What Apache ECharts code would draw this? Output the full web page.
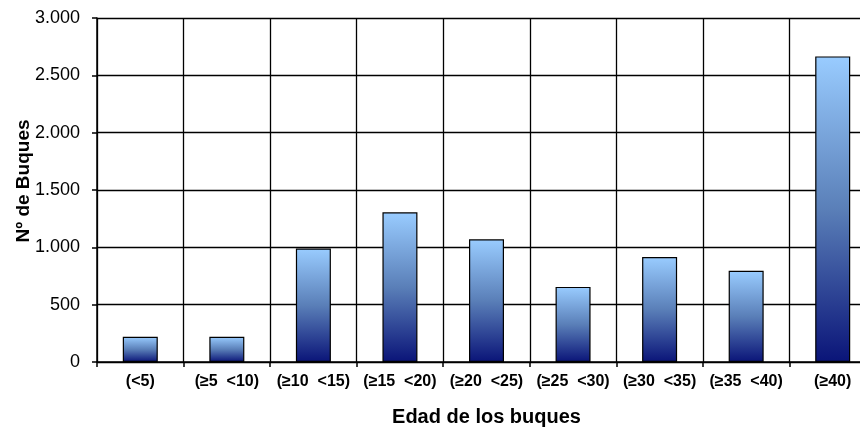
<!DOCTYPE html>
<html><head><meta charset="utf-8">
<script src="https://cdn.jsdelivr.net/npm/echarts@6/dist/echarts.min.js"></script>
<style>html,body{margin:0;padding:0;background:#fff;}#c{width:860px;height:427px;}</style>
</head><body><div id="c"></div>
<script>
var categories = ['(<5)', '(≥5  <10)', '(≥10  <15)', '(≥15  <20)', '(≥20  <25)', '(≥25  <30)', '(≥30  <35)', '(≥35  <40)', '(≥40)'];
var values = [220, 220, 990, 1305, 1070, 655, 915, 795, 2665];
var yTicks = {min: 0, max: 3000, interval: 500};

var chart = echarts.init(document.getElementById('c'));
chart.setOption({
  animation: false,
  grid: {left: 97, top: 18, width: 779, height: 344, containLabel: false, outerBoundsMode: 'none'},
  xAxis: {
    type: 'category', data: categories,
    name: 'Edad de los buques', nameLocation: 'middle', nameGap: 45, nameMoveOverlap: false,
    nameTextStyle: {fontFamily: 'Liberation Sans', fontWeight: 'bold', fontSize: 20, color: '#000'},
    axisLine: {lineStyle: {color: '#000', width: 1.5}},
    axisTick: {show: true, length: 5, lineStyle: {color: '#000', width: 1.5}},
    axisLabel: {fontFamily: 'Liberation Sans', fontWeight: 'bold', fontSize: 16, color: '#000', margin: 12, interval: 0},
    splitLine: {show: true, lineStyle: {color: '#000', width: 1.3}}
  },
  yAxis: {
    type: 'value', min: yTicks.min, max: yTicks.max, interval: yTicks.interval,
    name: 'Nº de Buques', nameLocation: 'middle', nameGap: 64, nameMoveOverlap: false,
    nameTextStyle: {fontFamily: 'Liberation Sans', fontWeight: 'bold', fontSize: 19, color: '#000', padding: [0, 0, 0, 18]},
    axisLine: {show: true, lineStyle: {color: '#000', width: 1.5}},
    axisTick: {show: true, length: 5, lineStyle: {color: '#000', width: 1.5}},
    axisLabel: {fontFamily: 'Liberation Sans', fontSize: 18, color: '#000', margin: 17,
      formatter: function (v) { return v >= 1000 ? Math.floor(v/1000) + '.' + String(v%1000).padStart(3,'0') : String(v); }},
    splitLine: {show: true, lineStyle: {color: '#000', width: 1.3}}
  },
  series: [{
    type: 'bar', data: values, barWidth: 35,
    itemStyle: {
      borderColor: '#000', borderWidth: 1.2,
      color: new echarts.graphic.LinearGradient(0, 0, 0, 1, [
        {offset: 0, color: '#99CCFF'},
        {offset: 0.5, color: '#5a7fb8'},
        {offset: 1, color: '#0a1478'}
      ], false)
    }
  }]
});
</script></body></html>
